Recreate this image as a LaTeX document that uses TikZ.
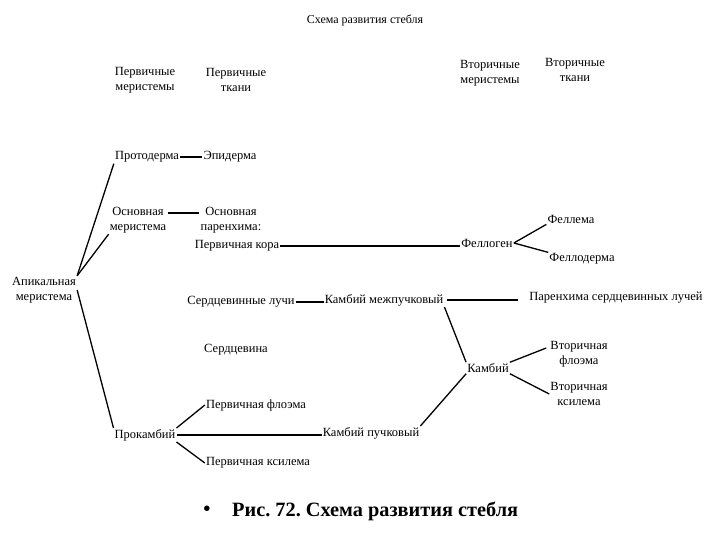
\documentclass[tikz,border=0pt]{standalone}
\usepackage{fontspec}
\setmainfont{Liberation Serif}
\usetikzlibrary{calc}
\frenchspacing
\begin{document}
\begin{tikzpicture}[x=1pt,y=-1pt,
  lbl/.style={font=\fontsize{12.5}{15}\selectfont, inner sep=1pt, align=center},
  conn/.style={line width=1.3pt},
  thick conn/.style={line width=2pt}]
\useasboundingbox (0,0) rectangle (720,540);
\node[lbl, font=\fontsize{12}{14}\selectfont] (title) at (365,20) {Схема развития стебля};
\node[lbl] (h1) at (145,80) {Первичные\\меристемы};
\node[lbl] (h2) at (236,80) {Первичные\\ткани};
\node[lbl] (h3) at (490,73) {Вторичные\\меристемы};
\node[lbl] (h4) at (575,70) {Вторичные\\ткани};
\node[lbl] (proto) at (147,157) {Протодерма};
\node[lbl] (epi) at (230,157) {Эпидерма};
\node[lbl] (osnm) at (138,220) {Основная\\меристема};
\node[lbl] (osnp) at (231,220) {Основная\\паренхима:};
\node[lbl] (kora) at (237,246) {Первичная кора};
\node[lbl] (fellogen) at (487,243) {Феллоген};
\node[lbl] (fellema) at (571,219) {Феллема};
\node[lbl] (fellod) at (582,259) {Феллодерма};
\node[lbl] (apic) at (44,290) {Апикальная\\меристема};
\node[lbl] (luchi) at (241,302) {Сердцевинные лучи};
\node[lbl] (kmezh) at (384,300) {Камбий межпучковый};
\node[lbl] (paren) at (616,298) {Паренхима сердцевинных лучей};
\node[lbl] (serdc) at (236,350) {Сердцевина};
\node[lbl] (kamb) at (488,368) {Камбий};
\node[lbl] (vflo) at (579,354) {Вторичная\\флоэма};
\node[lbl] (vksi) at (579,394) {Вторичная\\ксилема};
\node[lbl] (pflo) at (256,405) {Первичная флоэма};
\node[lbl] (prok) at (145,435) {Прокамбий};
\node[lbl] (kpuch) at (371,433) {Камбий пучковый};
\node[lbl] (pksi) at (258,463) {Первичная ксилема};
\node[font=\fontsize{20.3}{23}\selectfont\bfseries, inner sep=0pt] (bullet) at (207,511) {•};
\node[font=\fontsize{20.3}{23}\selectfont\bfseries, inner sep=0pt, anchor=west] (cap) at (232,511) {Рис. 72. Схема развития стебля};
% connectors
\draw[conn] (apic.north east) -- (proto.south west);
\draw[conn] (apic.north east) -- (osnm.south west);
\draw[conn] (apic.east) -- (prok.north west);
\draw[thick conn] (proto.east) -- (epi.west);
\draw[conn] ($(osnm.east)+(1,-7)$) -- ($(osnp.west)+(-1,-7)$);
\draw[thick conn] (kora.east) -- (kora.east -| fellogen.west);
\draw[conn] (fellogen.east) -- (fellema.south west);
\draw[conn] (fellogen.east) -- (fellod.north west);
\draw[thick conn] (luchi.east) -- (luchi.east -| kmezh.west);
\draw[thick conn, shorten <=3pt, shorten >=10pt] (kmezh.east) -- (kmezh.east -| paren.west);
\draw[conn] (kmezh.south east) -- (kamb.north west);
\draw[conn] (kamb.north east) -- ($(vflo.west)+(-3,-6)$);
\draw[conn] (kamb.south east) -- (vksi.west);
\draw[conn] (kpuch.north east) -- (kamb.south west);
\draw[thick conn] (prok.east) -- (prok.east -| kpuch.west);
\draw[conn] (prok.north east) -- (pflo.west);
\draw[conn] (prok.south east) -- (pksi.west);
\end{tikzpicture}
\end{document}
